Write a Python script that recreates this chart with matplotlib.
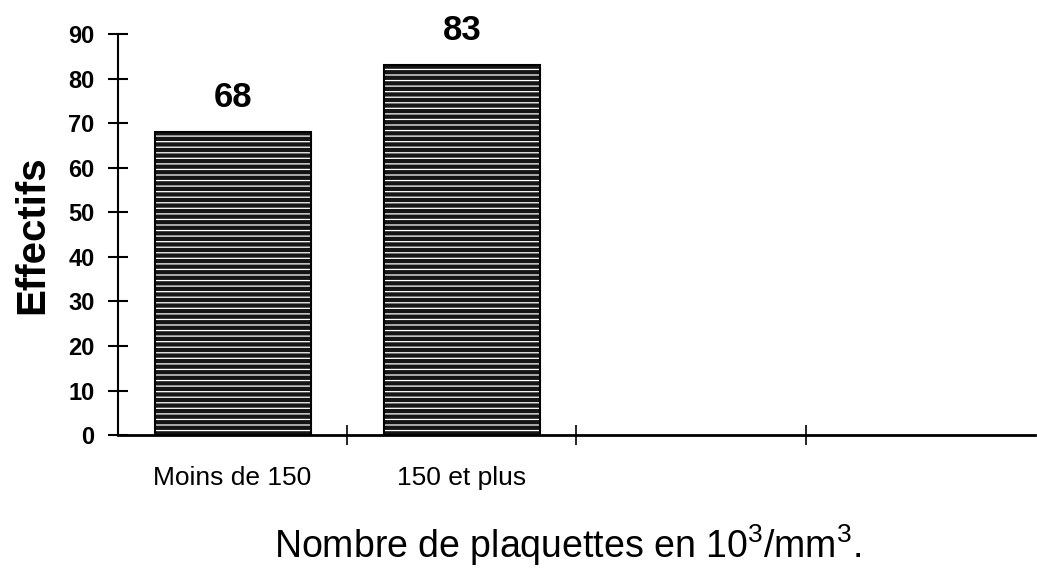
import matplotlib
matplotlib.use("Agg")
import matplotlib.pyplot as plt
import numpy as np

plt.rcParams["font.family"] = ["Liberation Sans", "DejaVu Sans"]
plt.rcParams["hatch.linewidth"] = 0.9

categories = ["Moins de 150", "150 et plus", "", ""]
values = [68, 83]
value_labels = ["68", "83"]
yticks = list(range(0, 100, 10))

fig = plt.figure(figsize=(10.37, 5.71), dpi=100)
ax = fig.add_axes([0.1138, 0.238, 0.884, 0.7025])

x = np.arange(len(values))
# dark fill with white horizontal streaks, then a black outline on top
ax.bar(x, values, 0.68, color="#151515", edgecolor="white", hatch="---", linewidth=0, zorder=2)
ax.bar(x, values, 0.68, fill=False, edgecolor="black", linewidth=1.5, zorder=3)
for xi, v, lab in zip(x, values, value_labels):
    ax.text(xi, v + 4, lab, ha="center", va="bottom", fontsize=25, fontweight="bold")

ax.set_xlim(-0.5, len(categories) - 0.5)
ax.set_ylim(0, 90)
ax.set_yticks(yticks)
ax.set_yticklabels([str(t) for t in yticks], fontsize=17, fontweight="bold")
ax.tick_params(axis="y", direction="inout", length=14, width=1.5, pad=10)

ax.set_xticks(np.arange(len(categories)))
ax.set_xticklabels(categories, fontsize=19)
ax.tick_params(axis="x", which="major", length=0, pad=22)
ax.set_xticks(np.arange(len(categories) - 1) + 0.5, minor=True)
ax.tick_params(axis="x", which="minor", direction="inout", length=14, width=1.2)

for s in ["top", "right"]:
    ax.spines[s].set_visible(False)
ax.spines["left"].set_linewidth(1.5)
ax.spines["bottom"].set_linewidth(2)

ax.set_ylabel("Effectifs", fontsize=29, fontweight="bold", labelpad=12)
fig.text(0.547, 0.046, r"Nombre de plaquettes en 10$^{\mathregular{3}}$/mm$^{\mathregular{3}}$.",
         ha="center", va="center", fontsize=27)

fig.savefig("out.png", dpi=100)
